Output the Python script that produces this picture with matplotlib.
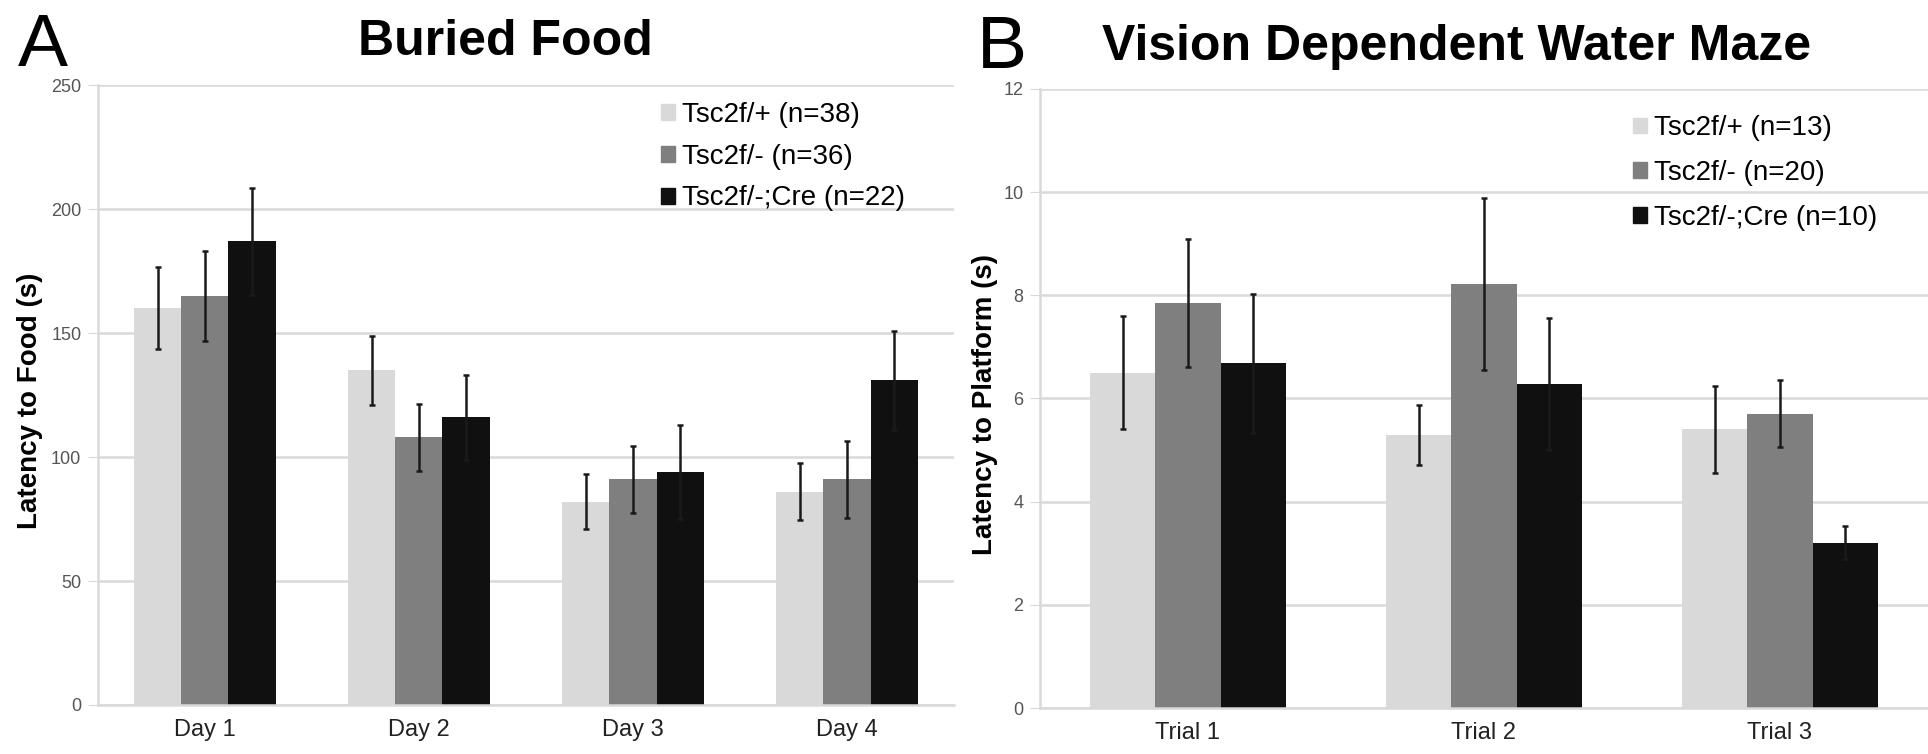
import matplotlib
matplotlib.use('Agg')
import matplotlib.pyplot as plt
import numpy as np
from matplotlib.patches import Patch

plt.rcParams['font.family'] = ['Liberation Sans', 'DejaVu Sans']

# ---- data ----
groups = ['Tsc2f/+', 'Tsc2f/-', 'Tsc2f/-;Cre']
colors = ['#d9d9d9', '#7f7f7f', '#101010']

food_days = ['Day 1', 'Day 2', 'Day 3', 'Day 4']
food_n = [38, 36, 22]
food_mean = [
    [160, 135, 82, 86],     # Tsc2f/+
    [165, 108, 91, 91],     # Tsc2f/-
    [187, 116, 94, 131],    # Tsc2f/-;Cre
]
food_err = [
    [16.5, 14, 11, 11.5],
    [18, 13.5, 13.5, 15.5],
    [21.5, 17, 19, 20],
]
food_ticks = [0, 50, 100, 150, 200, 250]

maze_trials = ['Trial 1', 'Trial 2', 'Trial 3']
maze_n = [13, 20, 10]
maze_mean = [
    [6.5, 5.3, 5.4],
    [7.85, 8.22, 5.7],
    [6.68, 6.28, 3.2],
]
maze_err = [
    [1.1, 0.58, 0.84],
    [1.24, 1.67, 0.65],
    [1.34, 1.28, 0.32],
]
maze_ticks = [0, 2, 4, 6, 8, 10, 12]


def draw_panel(ax, cats, means, errs, ns, ticks):
    x = np.arange(len(cats))
    w = 0.22
    handles = []
    for i, (m, e) in enumerate(zip(means, errs)):
        pos = x + (i - 1) * w
        ax.bar(pos, m, width=w, color=colors[i], zorder=2)
        ax.errorbar(pos, m, yerr=e, fmt='none', ecolor='#1a1a1a',
                    elinewidth=1.8, capsize=2.5, capthick=1.8, zorder=3)
        handles.append(Patch(color=colors[i], label='%s (n=%d)' % (groups[i], ns[i])))
    ax.set_xlim(-0.5, len(cats) - 0.5)
    ax.set_ylim(0, ticks[-1])
    ax.set_yticks(ticks)
    ax.set_xticks(x)
    ax.set_xticklabels(cats, fontsize=17, color='#222222')
    ax.tick_params(axis='x', length=0, pad=10)
    ax.tick_params(axis='y', length=7, color='#d9d9d9', labelsize=13,
                   labelcolor='#555555', pad=5)
    ax.yaxis.grid(True, color='#d9d9d9', linewidth=1.8, zorder=0)
    ax.set_axisbelow(True)
    for s in ['top', 'right']:
        ax.spines[s].set_visible(False)
    ax.spines['left'].set_color('#d9d9d9')
    ax.spines['bottom'].set_color('#d9d9d9')
    ax.spines['left'].set_linewidth(1.8)
    ax.spines['bottom'].set_linewidth(1.8)
    return handles


fig = plt.figure(figsize=(19.28, 7.54), dpi=100)

axA = fig.add_axes([0.0508, 0.065, 0.444, 0.822])
hA = draw_panel(axA, food_days, food_mean, food_err, food_n, food_ticks)
axA.legend(handles=hA, loc='upper left', bbox_to_anchor=(0.343, 0.865),
           bbox_transform=fig.transFigure, frameon=False, fontsize=20,
           handlelength=0.5, handleheight=0.5, handletextpad=0.25,
           labelspacing=0.57, borderaxespad=0, borderpad=0)

axB = fig.add_axes([0.5394, 0.061, 0.4606, 0.821])
hB = draw_panel(axB, maze_trials, maze_mean, maze_err, maze_n, maze_ticks)
axB.legend(handles=hB, loc='upper left', bbox_to_anchor=(0.847, 0.847),
           bbox_transform=fig.transFigure, frameon=False, fontsize=20,
           handlelength=0.5, handleheight=0.5, handletextpad=0.25,
           labelspacing=0.67, borderaxespad=0, borderpad=0)

# titles, panel letters and axis labels
fig.text(0.1857, 0.927, 'Buried Food', ha='left', va='baseline',
         fontsize=36, fontweight='bold')
fig.text(0.5716, 0.920, 'Vision Dependent Water Maze', ha='left', va='baseline',
         fontsize=36, fontweight='bold')
fig.text(0.0093, 0.912, 'A', ha='left', va='baseline', fontsize=54)
fig.text(0.5067, 0.910, 'B', ha='left', va='baseline', fontsize=54)
fig.text(0.0156, 0.469, 'Latency to Food (s)', rotation=90, ha='center',
         va='center', fontsize=20, fontweight='bold')
fig.text(0.511, 0.463, 'Latency to Platform (s)', rotation=90, ha='center',
         va='center', fontsize=20, fontweight='bold')

fig.savefig('out.png', dpi=100)
